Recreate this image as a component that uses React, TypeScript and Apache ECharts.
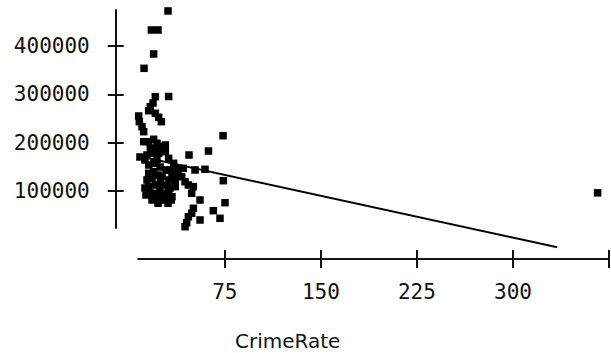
import React, { useEffect, useRef } from "react";
import * as echarts from "echarts";

// Crime rate (per 1000 residents) for each town
const crimeRate: number[] = [
  30.6, 17.6, 22.8, 19.4, 11.9, 31.1, 20.7, 16.8, 15.5, 20.7,
  23.3, 25.4, 7.7, 8.2, 10.3, 11.6, 11.6, 15.5, 19.4, 22.0,
  16.8, 20.7, 24.6, 28.5, 73.6, 47.0, 62.2, 42.5, 51.7, 59.5,
  73.8, 41.3, 43.9, 46.5, 50.4, 49.1, 55.6, 75.1, 66.0, 71.2,
  50.4, 49.1, 46.5, 45.2, 55.6, 43.9, 22.8, 30.6, 33.2, 14.2,
  18.1, 23.3, 28.5, 31.1, 35.0, 37.6, 15.5, 19.4, 15.5, 19.4,
  14.2, 18.1, 15.5, 20.7, 24.6, 25.9, 33.7, 36.3, 36.3, 16.8,
  20.7, 25.9, 31.1, 33.7, 18.1, 23.3, 28.5, 29.8, 24.4, 29.0,
  12.6, 31.4, 22.0, 13.4, 18.9, 8.7, 12.6, 24.3, 28.3, 32.2,
  22.8, 38.4, 32.2, 366.1,
];

// Median house price for each town
const housePrice: number[] = [
  473000, 433600, 433600, 383900, 354200, 295800, 295400, 274700, 266400, 261000,
  252700, 243600, 255400, 243600, 233300, 222900, 202200, 202200, 207200, 198900,
  188500, 188500, 191800, 195400, 214600, 174600, 182900, 147100, 143600, 145000,
  121400, 129700, 119300, 112500, 109000, 95300, 81400, 75800, 59300, 43500,
  64200, 53900, 46800, 34400, 40000, 26100, 74600, 74600, 81400, 174600,
  178200, 178200, 181500, 167800, 157400, 147100, 153900, 157400, 136700, 140000,
  122900, 126400, 109000, 112500, 119300, 129700, 133200, 122900, 109000, 95300,
  95300, 95300, 98600, 88300, 81400, 81400, 81400, 112500, 149800, 143600,
  164300, 122900, 164300, 91800, 282400, 170500, 106300, 106300, 91800, 143600,
  133200, 133200, 106300, 96200,
];

// Least-squares fit of price on crime rate, and the span it is drawn over
const fitIntercept = 176629;
const fitSlope = -576.9;
const fitRange: number[] = [-4.3, 334.6];

// Axis ranges and ticks
const xRange: number[] = [7.4, 375];
const xTicks: number[] = [75, 150, 225, 300, 375];
const xTickLabels: number[] = [75, 150, 225, 300];
const yRange: number[] = [23400, 475000];
const yTicks: number[] = [100000, 200000, 300000, 400000];

const FONT = "'DejaVu Sans Mono', monospace";
const INK = "#111";

export default function App() {
  const ref = useRef<HTMLDivElement>(null);

  useEffect(() => {
    if (!ref.current) return;
    const chart = echarts.init(ref.current, null, { renderer: "svg" });

    const points = crimeRate.map((c, i) => [c, housePrice[i]]);
    const fitLine = fitRange.map((x) => [x, fitIntercept + fitSlope * x]);
    const plain = (v: number) => String(v);

    const baseX = {
      type: "value" as const,
      min: xRange[0],
      max: xRange[1],
      position: "bottom" as const,
      offset: 31,
      splitLine: { show: false },
    };
    const baseY = {
      type: "value" as const,
      min: yRange[0],
      max: yRange[1],
      position: "left" as const,
      offset: 22.6,
      splitLine: { show: false },
    };

    chart.setOption({
      animation: false,
      backgroundColor: "#fff",
      grid: {
        left: 138.3,
        width: 470.7,
        top: 10,
        height: 218,
        containLabel: false,
        outerBoundsMode: "none",
      },
      xAxis: [
        {
          ...baseX,
          axisLine: { show: true, lineStyle: { color: INK, width: 2 } },
          axisTick: {
            show: true,
            length: 9,
            customValues: xTicks,
            lineStyle: { color: INK, width: 2 },
          },
          axisLabel: {
            customValues: xTickLabels,
            formatter: plain,
            margin: 22,
            fontFamily: FONT,
            fontSize: 21,
            color: INK,
          },
          name: "CrimeRate",
          nameLocation: "middle",
          nameGap: 72,
          nameTextStyle: {
            fontFamily: "'DejaVu Sans', sans-serif",
            fontSize: 20,
            color: INK,
            padding: [0, 172, 0, 0],
          },
        },
        {
          ...baseX,
          axisLine: { show: false },
          axisTick: {
            show: true,
            inside: true,
            length: 9,
            customValues: xTicks,
            lineStyle: { color: INK, width: 2 },
          },
          axisLabel: { show: false },
        },
      ],
      yAxis: [
        {
          ...baseY,
          axisLine: { show: true, lineStyle: { color: INK, width: 2 } },
          axisTick: {
            show: true,
            length: 8,
            customValues: yTicks,
            lineStyle: { color: INK, width: 2 },
          },
          axisLabel: {
            customValues: yTicks,
            formatter: plain,
            margin: 26,
            fontFamily: FONT,
            fontSize: 21,
            color: INK,
          },
        },
        {
          ...baseY,
          axisLine: { show: false },
          axisTick: {
            show: true,
            inside: true,
            length: 8,
            customValues: yTicks,
            lineStyle: { color: INK, width: 2 },
          },
          axisLabel: { show: false },
        },
      ],
      series: [
        {
          type: "scatter",
          xAxisIndex: 0,
          yAxisIndex: 0,
          data: points,
          symbol: "rect",
          symbolSize: 7.5,
          itemStyle: { color: "#000", opacity: 1 },
          clip: false,
        },
        {
          type: "line",
          xAxisIndex: 0,
          yAxisIndex: 0,
          data: fitLine,
          showSymbol: false,
          symbol: "none",
          clip: false,
          lineStyle: { color: "#000", width: 2 },
        },
      ],
    });

    return () => chart.dispose();
  }, []);

  return (
    <div
      ref={ref}
      style={{ position: "fixed", left: 0, top: 0, width: 611, height: 353 }}
    />
  );
}
